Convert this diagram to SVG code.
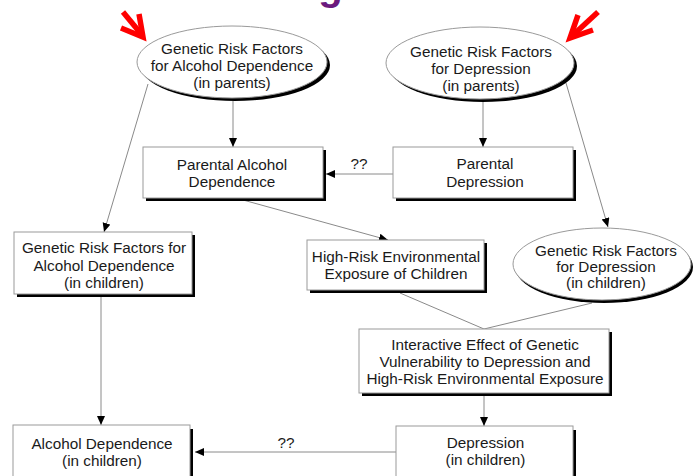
<svg xmlns="http://www.w3.org/2000/svg" width="694" height="476" viewBox="0 0 694 476">
<defs>
<style>
text{font-family:"Liberation Sans",Arial,sans-serif;font-size:15.3px;fill:#1a1a1a;text-anchor:middle}
.box{fill:#fff;stroke:#9a9a9a;stroke-width:1}
.sh{fill:#000}
.ell{fill:#fff;stroke:#9a9a9a;stroke-width:1}
.con{stroke:#8a8a8a;stroke-width:1;fill:none}
.arr{marker-end:url(#ah)}
.red{stroke:#ff0000;stroke-width:5.5;fill:none;stroke-linejoin:miter;stroke-linecap:butt}
</style>
<marker id="ah" markerUnits="userSpaceOnUse" markerWidth="10" markerHeight="9" refX="9" refY="4" orient="auto">
<path d="M0,0 L9,4 L0,8 z" fill="#000"/>
</marker>
</defs>
<rect width="694" height="476" fill="#fff"/>
<text x="330.5" y="0" style="font-size:40px;font-weight:bold;fill:#6c1a7e">g</text>

<g id="connectors">
<line class="con arr" x1="233" y1="101" x2="233" y2="147"/>
<line class="con arr" x1="148" y1="84" x2="104" y2="232"/>
<line class="con arr" x1="483" y1="100" x2="483" y2="147"/>
<line class="con arr" x1="566" y1="83" x2="608" y2="227"/>
<line class="con arr" x1="393" y1="174" x2="326" y2="174"/>
<text x="359" y="169">??</text>
<line class="con arr" x1="243" y1="200" x2="388" y2="240"/>
<line class="con" x1="400" y1="293" x2="484" y2="329"/>
<line class="con" x1="592" y1="303" x2="484" y2="329"/>
<line class="con arr" x1="484" y1="396" x2="484" y2="426"/>
<line class="con arr" x1="101" y1="297" x2="101" y2="425"/>
<line class="con arr" x1="396" y1="452" x2="195" y2="452"/>
<text x="286" y="447.5">??</text>
</g>

<g id="gen-alc-parents">
<ellipse class="sh" cx="235" cy="65" rx="95" ry="36"/>
<ellipse class="ell" cx="232" cy="62" rx="95" ry="36"/>
<text x="232" y="54">Genetic Risk Factors</text>
<text x="232" y="71">for Alcohol Dependence</text>
<text x="232" y="87.5">(in parents)</text>
</g>

<g id="gen-dep-parents">
<ellipse class="sh" cx="483" cy="66" rx="94" ry="36"/>
<ellipse class="ell" cx="480" cy="63" rx="94" ry="36"/>
<text x="481" y="56.5">Genetic Risk Factors</text>
<text x="481" y="74">for Depression</text>
<text x="481" y="90.5">(in parents)</text>
</g>

<g id="parental-alcohol">
<rect class="sh" x="146" y="150" width="180" height="51"/>
<rect class="box" x="143" y="147" width="180" height="51"/>
<text x="232" y="169.5">Parental Alcohol</text>
<text x="232" y="186.5">Dependence</text>
</g>

<g id="parental-depression">
<rect class="sh" x="396" y="150" width="180" height="51"/>
<rect class="box" x="393" y="147" width="180" height="51"/>
<text x="485" y="169">Parental</text>
<text x="485" y="186.5">Depression</text>
</g>

<g id="gen-alc-children">
<rect class="sh" x="17" y="235" width="178" height="62"/>
<rect class="box" x="14" y="232" width="178" height="62"/>
<text x="104" y="253">Genetic Risk Factors for</text>
<text x="104" y="270.5">Alcohol Dependence</text>
<text x="104" y="288">(in children)</text>
</g>

<g id="high-risk">
<rect class="sh" x="310" y="243" width="177" height="50"/>
<rect class="box" x="307" y="240" width="177" height="50"/>
<text x="396" y="261.5">High-Risk Environmental</text>
<text x="396" y="278.5">Exposure of Children</text>
</g>

<g id="gen-dep-children">
<ellipse class="sh" cx="604" cy="267" rx="89" ry="36"/>
<ellipse class="ell" cx="602" cy="264" rx="89" ry="36"/>
<text x="606" y="256">Genetic Risk Factors</text>
<text x="606" y="272">for Depression</text>
<text x="606" y="288">(in children)</text>
</g>

<g id="interactive">
<rect class="sh" x="362" y="332" width="250" height="64"/>
<rect class="box" x="359" y="329" width="250" height="64"/>
<text x="485" y="350">Interactive Effect of Genetic</text>
<text x="485" y="367">Vulnerability to Depression and</text>
<text x="485" y="384">High-Risk Environmental Exposure</text>
</g>

<g id="alcohol-children">
<rect class="sh" x="16" y="429" width="177" height="60"/>
<rect class="box" x="13" y="425" width="177" height="60"/>
<text x="102" y="449">Alcohol Dependence</text>
<text x="102" y="466">(in children)</text>
</g>

<g id="depression-children">
<rect class="sh" x="399" y="430" width="177" height="60"/>
<rect class="box" x="396" y="426" width="177" height="60"/>
<text x="485.5" y="447.5">Depression</text>
<text x="485.5" y="464.5">(in children)</text>
</g>

<g id="red-arrows">
<line class="red" x1="123" y1="12" x2="142" y2="35"/>
<polyline class="red" points="139,14 143,37 121,28"/>
<line class="red" x1="598" y1="12" x2="572" y2="36"/>
<polyline class="red" points="578,15 570,38 593,30"/>
</g>
</svg>
